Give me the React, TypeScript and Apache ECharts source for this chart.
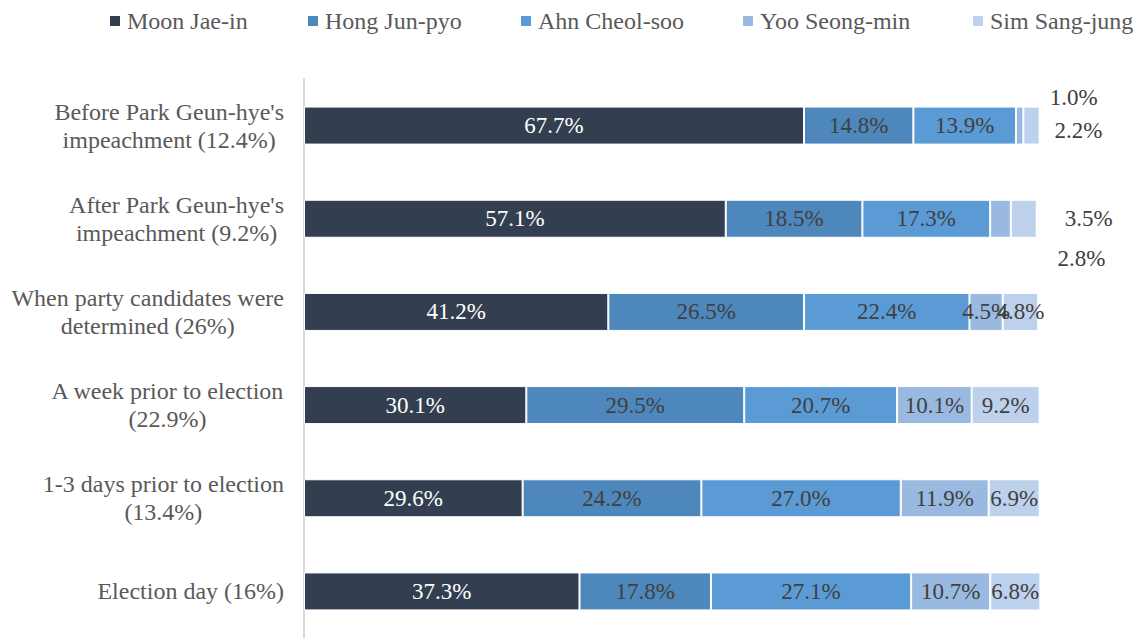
import React, { useEffect, useRef } from "react";
import * as echarts from "echarts";

const categories = [
  "Before Park Geun-hye's\nimpeachment (12.4%)",
  "After Park Geun-hye's\nimpeachment (9.2%)",
  "When party candidates were\ndetermined (26%)",
  "A week prior to election\n(22.9%)",
  "1-3 days prior to election\n(13.4%)",
  "Election day (16%)",
];

const seriesNames = ["Moon Jae-in", "Hong Jun-pyo", "Ahn Cheol-soo", "Yoo Seong-min", "Sim Sang-jung"];

const moonValues = [67.7, 57.1, 41.2, 30.1, 29.6, 37.3];
const hongValues = [14.8, 18.5, 26.5, 29.5, 24.2, 17.8];
const ahnValues = [13.9, 17.3, 22.4, 20.7, 27.0, 27.1];
const yooValues = [1.0, 2.8, 4.5, 10.1, 11.9, 10.7];
const simValues = [2.2, 3.5, 4.8, 9.2, 6.9, 6.8];

const allValues = [moonValues, hongValues, ahnValues, yooValues, simValues];
const colors = ["#333F50", "#4E87BB", "#5B9BD5", "#9AB9E0", "#BDD1EC"];
const labelColors = ["#FFFFFF", "#404040", "#404040", "#404040", "#404040"];
const legendLefts = [108, 306, 519, 741, 971];

// label offsets for small segments whose labels sit outside (seriesIndex -> categoryIndex -> [dx, dy])
const labelOffsets: Record<number, Record<number, [number, number]>> = {
  3: { 0: [54, -28], 1: [81, 40] },
  4: { 0: [47, 5], 1: [65, 0] },
};

const FONT = "Liberation Serif";

export default function App() {
  const ref = useRef<HTMLDivElement>(null);
  useEffect(() => {
    if (!ref.current) return;
    const chart = echarts.init(ref.current, undefined, { renderer: "svg" });
    const series = allValues.map((vals, si) => ({
      name: seriesNames[si],
      type: "bar",
      stack: "total",
      barWidth: 38,
      itemStyle: { color: colors[si], borderColor: "#FFFFFF", borderWidth: 1 },
      label: {
        show: true,
        position: "inside",
        color: labelColors[si],
        fontSize: 23,
        fontFamily: FONT,
        formatter: (p: any) => Number(p.value).toFixed(1) + "%",
      },
      data: vals.map((v, ci) => {
        const off = labelOffsets[si] && labelOffsets[si][ci];
        if (off) {
          return { value: v, label: { offset: off, color: "#404040" } };
        }
        return v;
      }),
    }));
    chart.setOption({
      animation: false,
      textStyle: { fontFamily: FONT },
      legend: seriesNames.map((n, i) => ({
        left: legendLefts[i],
        top: 9,
        padding: 0,
        itemWidth: 12,
        itemHeight: 12,
        icon: "rect",
        textStyle: { fontSize: 24, color: "#595959", fontFamily: FONT, padding: [0, 0, 0, 1] },
        data: [n],
      })),
      grid: { left: 304, right: 92.4, top: 79, bottom: -6, containLabel: false },
      xAxis: { type: "value", min: 0, max: 100, show: false },
      yAxis: {
        type: "category",
        inverse: true,
        data: categories,
        axisTick: { show: false },
        axisLine: { show: true, lineStyle: { color: "#D9D9D9", width: 2 } },
        axisLabel: {
          margin: 20,
          align: "right",
          fontSize: 24,
          lineHeight: 28,
          color: "#595959",
          fontFamily: FONT,
          formatter: (v: string) =>
            v
              .split("\n")
              .map((l) => `{c|${l}}`)
              .join("\n"),
          rich: {
            c: { align: "center", fontSize: 24, lineHeight: 28, color: "#595959", fontFamily: FONT },
          },
        },
      },
      series,
    });
    return () => chart.dispose();
  }, []);
  return (
    <div
      ref={ref}
      style={{ position: "fixed", left: 0, top: 0, width: 1135, height: 638, background: "#fff" }}
    />
  );
}
